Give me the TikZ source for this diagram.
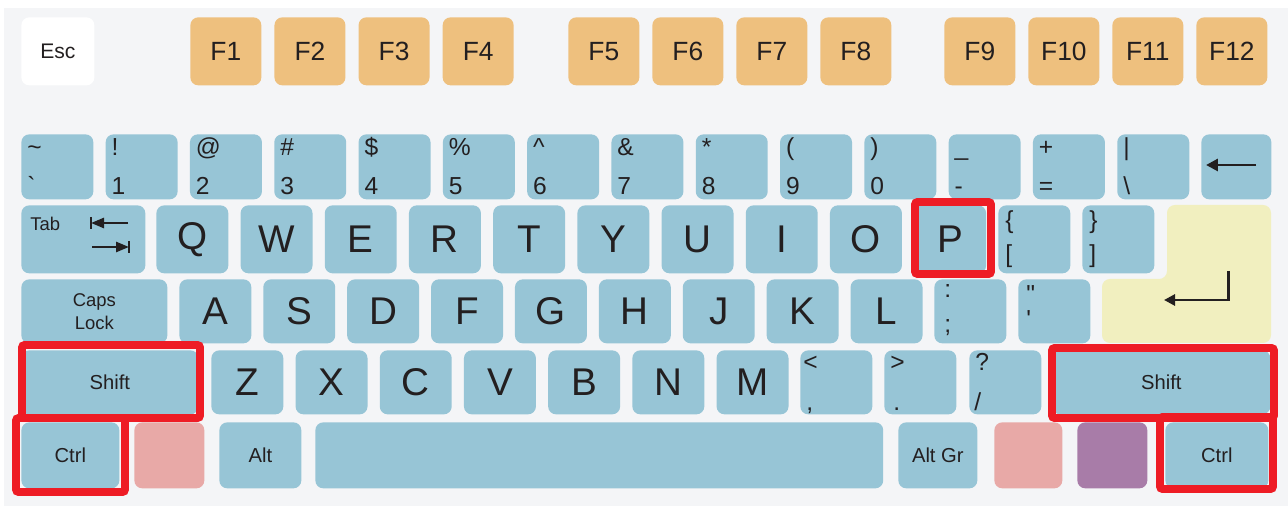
\documentclass[tikz,border=0pt]{standalone}
\usepackage{fontspec}
\setmainfont{Liberation Sans}
\usetikzlibrary{arrows.meta}

\definecolor{panelgrey}{HTML}{F4F5F7}
\definecolor{keyblue}{HTML}{97C5D6}
\definecolor{fkeyorange}{HTML}{EEC07E}
\definecolor{enteryellow}{HTML}{F1EFBF}
\definecolor{winpink}{HTML}{E8A9A7}
\definecolor{menupurple}{HTML}{A87CA8}
\definecolor{hilitered}{HTML}{EE1C25}
\definecolor{inkdark}{HTML}{231F20}

\begin{document}
\begin{tikzpicture}[
  x=0.02cm, y=-0.02cm,
  every node/.style={text=inkdark},
  key/.style={rectangle, rounded corners=4.5pt, fill=keyblue, anchor=north west,
              inner sep=0pt, minimum width=1.44cm, minimum height=1.3cm},
  fkey/.style={key, fill=fkeyorange, minimum width=1.42cm, minimum height=1.36cm,
               font=\fontsize{15}{15}\selectfont},
  letter/.style={font=\fontsize{22}{22}\selectfont},
  modkey/.style={key, align=center, font=\fontsize{11.5}{13}\selectfont},
  sym/.style={anchor=base west, inner sep=0pt, font=\fontsize{14}{14}\selectfont},
  hilite/.style={draw=hilitered, line width=4.5pt, rounded corners=1.5pt},
  glyph/.style={draw=inkdark, line width=1.6pt}
]

% panel
\fill[white] (0,0) rectangle (1288,506);
\fill[panelgrey] (4,8) rectangle (1288,506);

% function row
\node[key, fill=white, minimum width=1.46cm, minimum height=1.36cm,
      font=\fontsize{12}{12}\selectfont] (esc) at (21,17) {Esc};
\foreach \i in {1,...,4} \node[fkey] (F\i) at ({190+84.1*(\i-1)},17) {F\i};
\foreach \i in {5,...,8} \node[fkey] (F\i) at ({568+84*(\i-5)},17) {F\i};
\foreach \i in {9,...,12} \node[fkey] (F\i) at ({944+84*(\i-9)},17) {F\i};

% number row
\foreach \up/\dn [count=\i from 0] in {{\textasciitilde}/{\textasciigrave}, !/1, @/2,
    {\#}/3, {\$}/4, {\%}/5, {\textasciicircum}/6, {\&}/7, */8, {(}/9, {)}/0,
    {\_}/-, +/=, |/{\textbackslash}}{
  \node[key] (n\i) at ({21+84.3*\i},134) {};
  \node[sym] (n\i-up) at ({27+84.3*\i},156) {\up};
  \node[sym] (n\i-dn) at ({27+84.3*\i},195) {\dn};
}
\node[key, minimum width=1.4cm] (bksp) at (1201,134) {};
\draw[glyph, line width=1.7pt, -{Triangle[length=6.8pt, width=6.8pt]}]
  (1256,165) -- (1206,165);

% tab row
\node[key, minimum width=2.48cm, minimum height=1.36cm] (tab) at (21,205) {};
\node[anchor=base west, inner sep=0pt, font=\fontsize{10.5}{10.5}\selectfont]
  (tab-lbl) at (30,231) {Tab};
\draw[glyph, line width=1.5pt, -{Triangle[length=7.4pt, width=5.7pt]}]
  (128,223) -- (91,223);
\draw[glyph, line width=1.5pt] (91,217) -- (91,229);
\draw[glyph, line width=1.5pt, -{Triangle[length=7.4pt, width=5.7pt]}]
  (92,247) -- (129,247);
\draw[glyph, line width=1.5pt] (129,241) -- (129,253);
\foreach \k [count=\i from 0] in {Q,W,E,R,T,Y,U,I,O,P}
  \node[key, letter, minimum height=1.36cm] (\k) at ({156+84.2*\i},205) {\k};
\node[key, minimum height=1.36cm] (lbrack) at (998,205) {};
\node[sym] (lbrack-up) at (1005,229) {\{};
\node[sym] (lbrack-dn) at (1005,263) {[};
\node[key, minimum height=1.36cm] (rbrack) at (1082,205) {};
\node[sym] (rbrack-up) at (1089,229) {\}};
\node[sym] (rbrack-dn) at (1089,263) {]};

% enter
\fill[enteryellow, rounded corners=4.5pt] (1167,205) -- (1271,205) -- (1271,343)
  -- (1102,343) -- (1102,279) -- (1167,279) -- cycle;
\draw[glyph, line width=1.7pt, -{Triangle[length=6.3pt, width=6.3pt]}]
  (1228,271) -- (1228,300) -- (1164,300);

% caps row
\node[modkey, minimum width=2.92cm, minimum height=1.28cm,
      font=\fontsize{10.5}{13}\selectfont] (caps) at (21,279) {Caps\\Lock};
\foreach \k [count=\i from 0] in {A,S,D,F,G,H,J,K,L}
  \node[key, letter, minimum height=1.28cm] (\k) at ({179+83.9*\i},279) {\k};
\node[key, minimum height=1.28cm] (semi) at (934,279) {};
\node[sym] (semi-up) at (944,298) {:};
\node[sym] (semi-dn) at (944,333) {;};
\node[key, minimum height=1.28cm] (quote) at (1018,279) {};
\node[sym] (quote-up) at (1026,303) {\textquotedbl};
\node[sym] (quote-dn) at (1026,328) {\textquotesingle};

% shift row
\node[modkey, minimum width=3.54cm, minimum height=1.28cm] (lshift) at (21,350) {Shift};
\foreach \k [count=\i from 0] in {Z,X,C,V,B,N,M}
  \node[key, letter, minimum height=1.28cm] (\k) at ({211+84.2*\i},350) {\k};
\node[key, minimum height=1.28cm] (comma) at (800,350) {};
\node[sym] (comma-up) at (803,371) {<};
\node[sym] (comma-dn) at (806,411) {,};
\node[key, minimum height=1.28cm] (period) at (884,350) {};
\node[sym] (period-up) at (890,371) {>};
\node[sym] (period-dn) at (893,411) {.};
\node[key, minimum height=1.28cm] (slash) at (969,350) {};
\node[sym] (slash-up) at (975,371) {?};
\node[sym] (slash-dn) at (974,411) {\slash};
\node[modkey, minimum width=4.36cm, minimum height=1.28cm] (rshift) at (1052,350) {Shift};

% bottom row
\node[modkey, minimum width=1.96cm, minimum height=1.32cm] (lctrl) at (21,422) {Ctrl};
\node[key, fill=winpink, minimum width=1.4cm, minimum height=1.32cm] (lwin) at (134,422) {};
\node[modkey, minimum width=1.64cm, minimum height=1.32cm] (lalt) at (219,422) {Alt};
\node[key, minimum width=11.36cm, minimum height=1.32cm] (space) at (315,422) {};
\node[modkey, minimum width=1.58cm, minimum height=1.32cm] (altgr) at (898,422) {Alt Gr};
\node[key, fill=winpink, minimum width=1.36cm, minimum height=1.32cm] (rwin) at (994,422) {};
\node[key, fill=menupurple, minimum width=1.4cm, minimum height=1.32cm] (menu) at (1077,422) {};
\node[modkey, minimum width=2.06cm, minimum height=1.32cm] (rctrl) at (1165,422) {Ctrl};

% highlighted keys
\draw[hilite] (915,202) rectangle (991,274);
\draw[hilite] (22,345) rectangle (200,418);
\draw[hilite] (16,418) rectangle (125,492);
\draw[hilite] (1052,348) rectangle (1274,418);
\draw[hilite] (1160,417) rectangle (1273,489);

\end{tikzpicture}
\end{document}
